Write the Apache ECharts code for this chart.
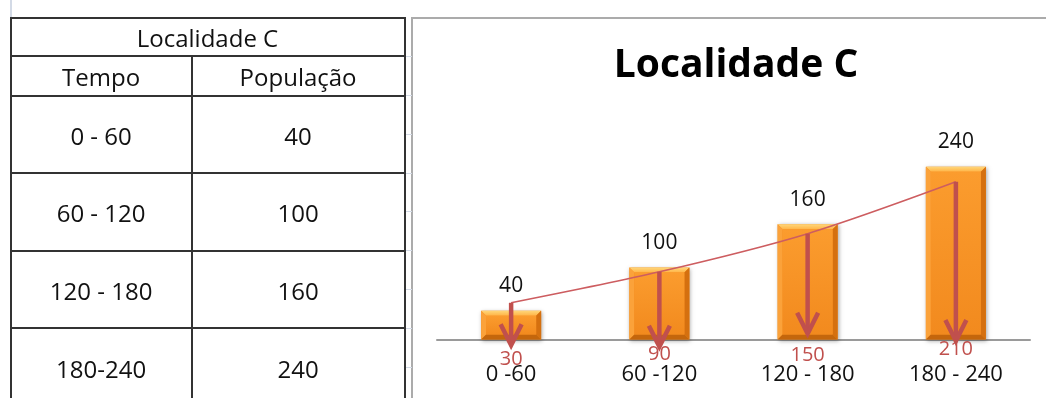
<!DOCTYPE html>
<html>
<head>
<meta charset="utf-8">
<script src="https://cdn.jsdelivr.net/npm/echarts@6/dist/echarts.min.js"></script>
<style>
  html, body { margin: 0; padding: 0; background: #fff; width: 1046px; height: 398px; overflow: hidden; font-family: "Open Sans", sans-serif; }
  #chart { position: absolute; left: 0; top: 0; width: 1046px; height: 398px; }
  #sheet { position: absolute; left: 0; top: 0; width: 1046px; height: 398px; pointer-events: none; }
  .rule { position: absolute; background: #333; }
  .gridline { position: absolute; background: #D3DAE6; }
  .cell { position: absolute; display: flex; align-items: center; justify-content: center; font-size: 24px; color: #111; padding-top: 2px; box-sizing: border-box; white-space: nowrap; }
  #frame { position: absolute; left: 411px; top: 17px; width: 700px; height: 420px; border-left: 2px solid #ABABAB; border-top: 2px solid #ABABAB; }
</style>
</head>
<body>
<div id="chart"></div>
<div id="sheet"><div id="frame"></div></div>
<script>
// Table contents
const tableTitle = 'Localidade C';
const tableHeaders = ['Tempo', 'População'];
const tempoRows = ['0 - 60', '60 - 120', '120 - 180', '180-240'];
const populacao = [40, 100, 160, 240];

// Chart contents
const chartTitle = 'Localidade C';
const categorias = ['0 -60', '60 -120', '120 - 180', '180 - 240'];
const curva = [51, 94, 147, 219];          // hand-drawn population curve
const pontaSeta = [-8, -10, 8, -2];        // where each arrow head ends
const pontosMedios = [30, 90, 150, 210];   // interval midpoints written under the axis

// ---------- spreadsheet table ----------
const sheet = document.getElementById('sheet');
function box(cls, l, t, w, h, text) {
  const d = document.createElement('div');
  d.className = cls;
  d.style.left = l + 'px'; d.style.top = t + 'px';
  d.style.width = w + 'px'; d.style.height = h + 'px';
  if (text !== undefined) d.textContent = text;
  sheet.appendChild(d);
  return d;
}
const rowsY = [16.8, 55.2, 94.5, 172.2, 249.5, 327, 405.5];
const colsX = [9.5, 190.7, 403.5];
const LW = 2;

// faint worksheet gridlines
box('gridline', 10, 0, 1.5, 17);
[56, 95, 134, 172.5, 211, 250, 289, 328, 367].forEach(y => box('gridline', 405.5, y, 6, 1.3));

// borders
rowsY.slice(0, 6).forEach(y => box('rule', colsX[0], y, colsX[2] - colsX[0] + LW, LW));
box('rule', colsX[0], rowsY[0], LW, 420);
box('rule', colsX[2], rowsY[0], LW, 420);
box('rule', colsX[1], rowsY[1], LW, 420);

// cells
box('cell', colsX[0] + LW, rowsY[0] + LW, colsX[2] - colsX[0] - LW, rowsY[1] - rowsY[0] - LW, tableTitle);
tableHeaders.forEach((h, c) => {
  box('cell', colsX[c] + LW, rowsY[1] + LW, colsX[c + 1] - colsX[c] - LW, rowsY[2] - rowsY[1] - LW, h);
});
tempoRows.forEach((t, r) => {
  const y0 = rowsY[r + 2] + LW, h = rowsY[r + 3] - rowsY[r + 2] - LW;
  box('cell', colsX[0] + LW, y0, colsX[1] - colsX[0] - LW, h, t);
  box('cell', colsX[1] + LW, y0, colsX[2] - colsX[1] - LW, h, String(populacao[r]));
});

// ---------- chart ----------
const FONT = '"Open Sans", sans-serif';
const RED = '#C0504D';
const labelDrop = [20, 14.5, 15.5, 10];

function bevelBar(params, api) {
  const i = api.value(0), v = api.value(1);
  const top = api.coord([i, v]);
  const base = api.coord([i, 0]);
  const w = api.size([1, 0])[0] * 0.405;
  const x0 = top[0] - w / 2, x1 = top[0] + w / 2, y0 = top[1], y1 = base[1];
  const b = Math.min(5, (y1 - y0) / 4);
  const poly = (pts, fill) => ({ type: 'polygon', shape: { points: pts }, style: { fill: fill } });
  return {
    type: 'group',
    children: [
      { type: 'rect', shape: { x: x0, y: y0, width: w, height: y1 - y0 },
        style: { fill: '#F38A1C', shadowBlur: 4, shadowColor: 'rgba(0,0,0,0.35)', shadowOffsetX: 1, shadowOffsetY: 1 } },
      poly([[x0, y0], [x1, y0], [x1 - b, y0 + b], [x0 + b, y0 + b]],
        new echarts.graphic.LinearGradient(0, 0, 0, 1, [{ offset: 0, color: '#FFD77A' }, { offset: 1, color: '#FFB447' }])),
      poly([[x0, y0], [x0 + b, y0 + b], [x0 + b, y1 - b], [x0, y1]], '#FBA23A'),
      poly([[x1, y0], [x1 - b, y0 + b], [x1 - b, y1 - b], [x1, y1]], '#D5700F'),
      poly([[x0, y1], [x0 + b, y1 - b], [x1 - b, y1 - b], [x1, y1]], '#C4660C'),
      { type: 'rect', shape: { x: x0 + b, y: y0 + b, width: w - 2 * b, height: Math.max(0, y1 - y0 - 2 * b) },
        style: { fill: new echarts.graphic.LinearGradient(0, 0, 0, 1, [{ offset: 0, color: '#FB9C2E' }, { offset: 1, color: '#F28A1E' }]) } },
      { type: 'text', x: top[0], y: y0 - 24.5,
        style: { text: String(v), fill: '#111', fontSize: 21, fontFamily: FONT, align: 'center', verticalAlign: 'middle' } }
    ]
  };
}

function arrowDown(params, api) {
  const i = api.value(0);
  const start = api.coord([i, api.value(1)]);
  const tip = api.coord([i, api.value(2)]);
  const base = api.coord([i, 0]);
  const x = start[0];
  const stroke = { stroke: RED, lineWidth: 4.5, fill: null };
  return {
    type: 'group',
    children: [
      { type: 'line', shape: { x1: x, y1: start[1], x2: x, y2: tip[1] - 3 }, style: stroke },
      { type: 'polyline', shape: { points: [[x - 10.5, tip[1] - 21], [x, tip[1]], [x + 10.5, tip[1] - 21]] },
        style: Object.assign({ lineJoin: 'miter' }, stroke) },
      { type: 'text', x: x, y: base[1] + labelDrop[params.dataIndex],
        style: { text: String(api.value(3)), fill: RED, fontSize: 20, fontFamily: FONT, align: 'center', verticalAlign: 'middle' } }
    ]
  };
}

const chart = echarts.init(document.getElementById('chart'));
chart.setOption({
  animation: false,
  grid: { left: 437, right: 16, top: 123.5, bottom: 58.5 },
  xAxis: {
    type: 'category',
    data: categorias,
    axisLine: { lineStyle: { color: '#9A9A9A', width: 2 } },
    axisTick: { show: false },
    axisLabel: { color: '#111', fontSize: 22, fontFamily: FONT, margin: 24 }
  },
  yAxis: { type: 'value', min: 0, max: 300, show: false },
  graphic: [{
    type: 'text', x: 736, y: 66,
    style: { text: chartTitle, fill: '#000', fontSize: 39, fontWeight: 'bold', fontFamily: FONT, align: 'center', verticalAlign: 'middle' }
  }],
  series: [
    { type: 'custom', name: 'População', renderItem: bevelBar, encode: { x: 0, y: 1 },
      data: populacao.map((v, i) => [i, v]), z: 2 },
    { type: 'line', name: 'Curva', data: curva, smooth: 0.3, symbol: 'none',
      lineStyle: { color: '#CD5D60', width: 1.6 }, z: 3 },
    { type: 'custom', name: 'Setas', renderItem: arrowDown, encode: { x: 0, y: 1 },
      data: curva.map((v, i) => [i, v, pontaSeta[i], pontosMedios[i]]), z: 4 }
  ]
});
</script>
</body>
</html>
